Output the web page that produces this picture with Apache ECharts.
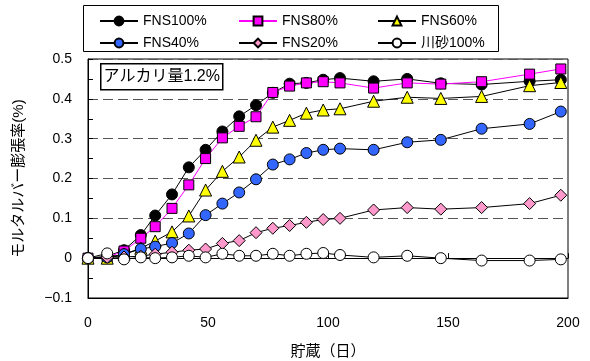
<!DOCTYPE html>
<html>
<head>
<meta charset="utf-8">
<script src="https://cdn.jsdelivr.net/npm/echarts@6/dist/echarts.min.js"></script>
<style>
  html, body { margin: 0; padding: 0; background: #fff; }
  #chart { width: 590px; height: 361px; }
</style>
</head>
<body>
<div id="chart"></div>
<script>
// Storage age (days) at each measurement
const days = [0, 8, 15, 22, 28, 35, 42, 49, 56, 63, 70, 77, 84, 91, 98, 105, 119, 133, 147, 164, 184, 197];

// Mortar bar expansion (%) per mix
const fns100 = [0, 0.005, 0.02, 0.058, 0.107, 0.16, 0.228, 0.272, 0.318, 0.356, 0.384, 0.415, 0.438, 0.44, 0.448, 0.452, 0.444, 0.45, 0.439, 0.436, 0.444, 0.448];
const fns80  = [0, 0.002, 0.018, 0.05, 0.079, 0.125, 0.184, 0.25, 0.302, 0.331, 0.355, 0.416, 0.432, 0.44, 0.443, 0.44, 0.427, 0.44, 0.437, 0.443, 0.462, 0.475];
const fns60  = [0, 0, 0.01, 0.025, 0.043, 0.066, 0.106, 0.171, 0.218, 0.254, 0.296, 0.329, 0.346, 0.364, 0.372, 0.375, 0.394, 0.404, 0.401, 0.406, 0.433, 0.441];
const fns40  = [0, 0.002, 0.01, 0.023, 0.029, 0.038, 0.062, 0.108, 0.137, 0.165, 0.198, 0.235, 0.248, 0.264, 0.272, 0.275, 0.272, 0.291, 0.297, 0.325, 0.337, 0.368];
const fns20  = [0, 0.002, 0.003, 0.005, 0.01, 0.015, 0.02, 0.023, 0.037, 0.044, 0.064, 0.075, 0.082, 0.09, 0.097, 0.1, 0.121, 0.127, 0.123, 0.127, 0.137, 0.158];
const riverSand = [0, 0.012, -0.003, 0.002, 0, 0.002, 0.006, 0.002, 0.011, 0.006, 0.006, 0.011, 0.006, 0.011, 0.013, 0.008, 0.002, 0.006, 0, -0.006, -0.006, -0.003];

const seriesNames = ['FNS100%', 'FNS80%', 'FNS60%', 'FNS40%', 'FNS20%', '川砂100%'];
const xTicks = [0, 50, 100, 150, 200];
const yTicks = [-0.1, 0, 0.1, 0.2, 0.3, 0.4, 0.5];

const FONT = '"Liberation Sans", "Noto Sans CJK JP", sans-serif';

function pairs(vals) { return days.map((d, i) => [d, vals[i]]); }

function makeSeries(name, vals, symbol, size, fill, lineColor) {
  return {
    name: name,
    type: 'line',
    data: pairs(vals),
    symbol: symbol,
    symbolSize: size,
    showSymbol: true,
    lineStyle: { color: lineColor, width: 1 },
    itemStyle: { color: fill, borderColor: '#000', borderWidth: 1 },
    emphasis: { disabled: true },
    animation: false
  };
}

const series = [
  makeSeries(seriesNames[0], fns100, 'circle', 11, '#000000', '#000000'),
  makeSeries(seriesNames[1], fns80, 'rect', 10, '#FF00FF', '#FF00FF'),
  makeSeries(seriesNames[2], fns60, 'triangle', 12, '#FFFF00', '#000000'),
  makeSeries(seriesNames[3], fns40, 'circle', 11, '#3366FF', '#000000'),
  makeSeries(seriesNames[4], fns20, 'diamond', 12, '#FF99CC', '#000000'),
  makeSeries(seriesNames[5], riverSand, 'circle', 11, '#FFFFFF', '#000000')
];

// Legend slots: three columns, two rows
const legendCols = [94, 233, 372];
const legendRows = [9, 31];
const legends = seriesNames.map((n, i) => ({
  data: [n],
  left: legendCols[i % 3],
  top: legendRows[Math.floor(i / 3)],
  itemWidth: 38,
  itemHeight: 11,
  itemGap: 4,
  selectedMode: false,
  textStyle: { fontFamily: FONT, fontSize: 14, color: '#000', padding: [0, 0, 0, 0] }
}));

const chart = echarts.init(document.getElementById('chart'));
chart.setOption({
  animation: false,
  backgroundColor: '#fff',
  grid: {
    left: 88, right: 22, top: 59, bottom: 63,
    outerBoundsMode: 'none', containLabel: false,
    show: true, borderColor: '#000', borderWidth: 1, backgroundColor: 'transparent'
  },
  legend: legends,
  xAxis: [
    {
      type: 'value', min: xTicks[0], max: xTicks[xTicks.length - 1], interval: 50,
      name: '貯蔵（日）', nameLocation: 'middle', nameGap: 46,
      nameTextStyle: { fontFamily: FONT, fontSize: 15, color: '#000' },
      axisLine: { onZero: false, lineStyle: { color: '#000' } },
      axisTick: { show: false },
      axisLabel: { fontFamily: FONT, fontSize: 14, color: '#000', margin: 18 },
      splitLine: { show: false }
    },
    {
      // zero line crossing the plot, with small upward ticks
      type: 'value', min: xTicks[0], max: xTicks[xTicks.length - 1], interval: 50,
      position: 'bottom',
      axisLine: { onZero: true, lineStyle: { color: '#000', width: 1 } },
      axisTick: { show: true, inside: true, length: 5, lineStyle: { color: '#000' } },
      axisLabel: { show: false },
      splitLine: { show: false }
    }
  ],
  yAxis: {
    type: 'value', min: yTicks[0], max: yTicks[yTicks.length - 1], interval: 0.1,
    name: 'モルタルバー膨張率(%)', nameLocation: 'middle', nameGap: 62, nameRotate: 90,
    nameTextStyle: { fontFamily: FONT, fontSize: 15, color: '#000' },
    axisLine: { show: true, lineStyle: { color: '#000' } },
    axisTick: { show: true, inside: true, length: 5, lineStyle: { color: '#000' } },
    minorTick: { show: true, splitNumber: 2, length: 5, lineStyle: { color: '#000' } },
    axisLabel: {
      fontFamily: FONT, fontSize: 14, color: '#000', margin: 16,
      formatter: function (v) {
        const r = Math.round(v * 10) / 10;
        if (r === 0) return '0';
        const s = Math.abs(r).toFixed(1);
        return r < 0 ? '\u2212' + s : s;
      }
    },
    splitLine: { show: true, lineStyle: { color: '#555', width: 1, type: [10, 5] } }
  },
  graphic: [
    {
      type: 'rect', left: 83, top: 5, z: -1,
      shape: { width: 415, height: 46 },
      style: { fill: '#fff', stroke: '#000', lineWidth: 1 }
    },
    {
      type: 'group', left: 100, top: 63, z: 10,
      children: [
        { type: 'rect', shape: { width: 122, height: 26 }, style: { fill: '#fff', stroke: '#000', lineWidth: 1.5 } },
        { type: 'text', x: 61, y: 13, style: { text: 'アルカリ量1.2%', fontFamily: FONT, fontSize: 16, fill: '#000', align: 'center', verticalAlign: 'middle' } }
      ]
    }
  ],
  series: series
});
</script>
</body>
</html>
